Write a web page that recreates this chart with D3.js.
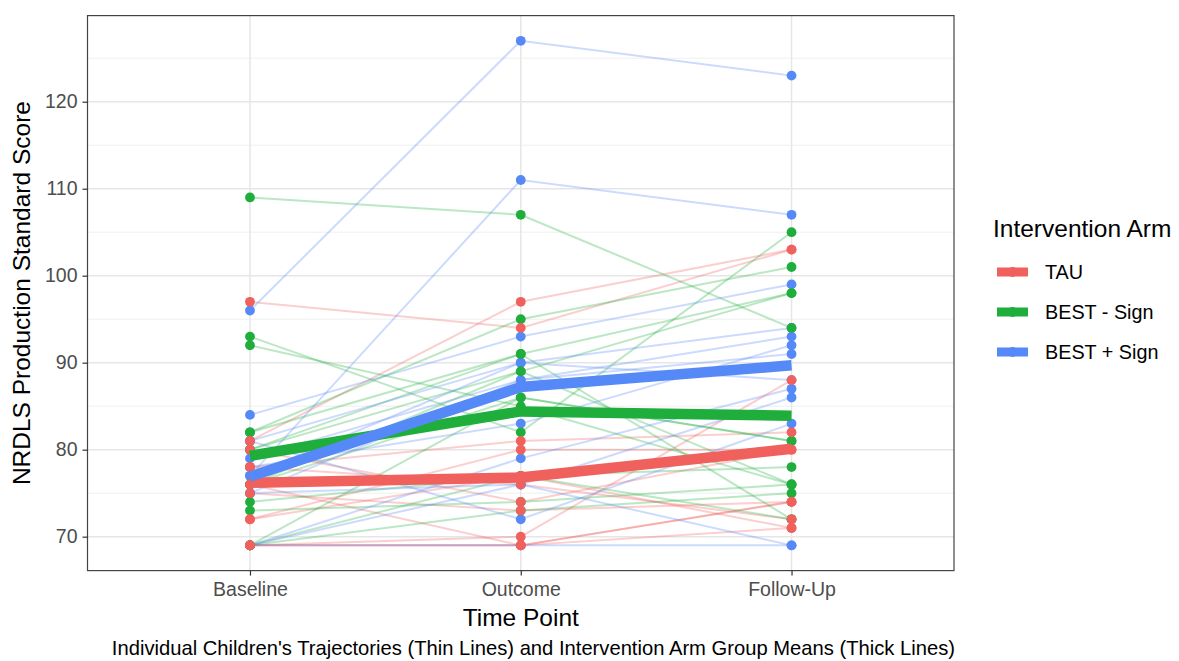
<!DOCTYPE html>
<html>
<head>
<meta charset="utf-8">
<script src="https://cdn.jsdelivr.net/npm/d3@7/dist/d3.min.js"></script>
<style>
    body { margin: 0; background: #fff; }
    svg text { font-family: "Liberation Sans", Arial, Helvetica, sans-serif; }
</style>
</head>
<body>
<div id="chart"></div>
<script>
// time points on the x axis
const timePoints = ["Baseline", "Outcome", "Follow-Up"];
const arms = ["TAU", "BEST - Sign", "BEST + Sign"];
const armColors = ["#F0605C", "#1FAE3C", "#5589F7"];
const yTicks = [70, 80, 90, 100, 110, 120];
const yMinorTicks = [75, 85, 95, 105, 115, 125];

// each child: [Baseline, Outcome, Follow-Up]
const tauScores = [
    [97, 94, 103], [81, 97, 103], [78, 81, 82], [72, 80, 80],
    [69, 70, 88], [69, 69, 71], [76, 69, 74], [78, 76, 72],
    [69, 69, 74], [75, 73, 74], [80, 74, 80], [72, 77, 71]
];
const bestNoSignScores = [
    [109, 107, 94], [93, 82, 105], [92, 85, 76], [82, 95, 101],
    [80, 91, 98], [76, 89, 98], [69, 86, 81], [74, 77, 78],
    [73, 74, 76], [69, 73, 75], [82, 91, 72], [80, 89, 76],
    [76, 86, 81], [69, 77, 72]
];
const bestSignScores = [
    [96, 127, 123], [77, 111, 107], [84, 93, 99], [81, 90, 94],
    [79, 88, 93], [78, 83, 92], [75, 88, 91], [77, 90, 88],
    [69, 79, 87], [69, 76, 86], [81, 72, 83], [75, 76, 69],
    [69, 69, 69]
];

// group means (thick lines)
const tauMeans = [76.2, 76.8, 80.1];
const bestNoSignMeans = [79.3, 84.4, 83.9];
const bestSignMeans = [76.9, 87.2, 89.7];

window.onload = function () {
    drawChart();
};

let drawChart = function () {
    let width = 1179;
    let height = 661;
    let panel = {left: 87.5, right: 954, top: 15.6, bottom: 570.6};

    let svg = d3.select("#chart")
        .append("svg")
        .attr("width", width)
        .attr("height", height);

    let xScale = d3.scalePoint()
        .domain(timePoints)
        .range([panel.left, panel.right])
        .padding(0.6);

    let yScale = d3.scaleLinear()
        .domain([66.1, 129.9])
        .range([panel.bottom, panel.top]);

    let groups = [tauScores, bestNoSignScores, bestSignScores];
    let means = [tauMeans, bestNoSignMeans, bestSignMeans];

    // 网格线
    let grid = svg.append("g");
    grid.selectAll(".minor")
        .data(yMinorTicks)
        .enter()
        .append("line")
        .attr("x1", panel.left).attr("x2", panel.right)
        .attr("y1", d => yScale(d)).attr("y2", d => yScale(d))
        .attr("stroke", "#EBEBEB")
        .attr("stroke-width", 0.8);
    grid.selectAll(".major")
        .data(yTicks)
        .enter()
        .append("line")
        .attr("x1", panel.left).attr("x2", panel.right)
        .attr("y1", d => yScale(d)).attr("y2", d => yScale(d))
        .attr("stroke", "#E6E6E6")
        .attr("stroke-width", 1.5);
    grid.selectAll(".vmajor")
        .data(timePoints)
        .enter()
        .append("line")
        .attr("x1", d => xScale(d)).attr("x2", d => xScale(d))
        .attr("y1", panel.top).attr("y2", panel.bottom)
        .attr("stroke", "#E6E6E6")
        .attr("stroke-width", 1.5);

    let line = d3.line()
        .x((d, i) => xScale(timePoints[i]))
        .y(d => yScale(d));

    // thin lines: individual children
    groups.forEach(function (scores, g) {
        svg.append("g")
            .selectAll("path")
            .data(scores)
            .enter()
            .append("path")
            .attr("d", line)
            .attr("fill", "none")
            .attr("stroke", armColors[g])
            .attr("stroke-opacity", 0.3)
            .attr("stroke-width", 2);
    });

    // points, drawn blue first so red ends on top
    [2, 1, 0].forEach(function (g) {
        let pts = [];
        groups[g].forEach(function (row) {
            row.forEach(function (v, i) {
                pts.push({t: timePoints[i], v: v});
            });
        });
        svg.append("g")
            .selectAll("circle")
            .data(pts)
            .enter()
            .append("circle")
            .attr("cx", d => xScale(d.t))
            .attr("cy", d => yScale(d.v))
            .attr("r", 4.9)
            .attr("fill", armColors[g]);
    });

    // thick lines: group means
    means.forEach(function (m, g) {
        svg.append("path")
            .datum(m)
            .attr("d", line)
            .attr("fill", "none")
            .attr("stroke", armColors[g])
            .attr("stroke-width", 10.5)
            .attr("stroke-linejoin", "round");
    });

    // panel border
    svg.append("rect")
        .attr("x", panel.left)
        .attr("y", panel.top)
        .attr("width", panel.right - panel.left)
        .attr("height", panel.bottom - panel.top)
        .attr("fill", "none")
        .attr("stroke", "#444444")
        .attr("stroke-width", 1.2);

    // axes
    let xAxis = d3.axisBottom(xScale).tickSize(5).tickPadding(6);
    let gx = svg.append("g")
        .attr("transform", "translate(0," + panel.bottom + ")")
        .call(xAxis);
    let yAxis = d3.axisLeft(yScale).tickValues(yTicks).tickSize(5).tickPadding(5);
    let gy = svg.append("g")
        .attr("transform", "translate(" + panel.left + ",0)")
        .call(yAxis);
    [gx, gy].forEach(function (a) {
        a.select(".domain").remove();
        a.selectAll(".tick line").attr("stroke", "#333333").attr("stroke-width", 1.2);
        a.selectAll(".tick text")
            .attr("fill", "#4D4D4D")
            .style("font-size", "19.5px");
    });
    gx.selectAll(".tick text").attr("dy", "0.71em").attr("y", 12);

    // axis titles
    svg.append("text")
        .attr("x", (panel.left + panel.right) / 2)
        .attr("y", 626)
        .attr("text-anchor", "middle")
        .style("font-size", "24.5px")
        .text("Time Point");
    svg.append("text")
        .attr("transform", "translate(30," + ((panel.top + panel.bottom) / 2) + ") rotate(-90)")
        .attr("text-anchor", "middle")
        .style("font-size", "24.5px")
        .text("NRDLS Production Standard Score");

    // caption
    svg.append("text")
        .attr("x", panel.right + 1)
        .attr("y", 655)
        .attr("text-anchor", "end")
        .style("font-size", "20.2px")
        .text("Individual Children's Trajectories (Thin Lines) and Intervention Arm Group Means (Thick Lines)");

    // legend
    let legend = svg.append("g");
    legend.append("text")
        .attr("x", 993)
        .attr("y", 237)
        .style("font-size", "24.5px")
        .text("Intervention Arm");
    let keys = legend.selectAll(".key")
        .data(arms)
        .enter()
        .append("g")
        .attr("transform", (d, i) => "translate(997," + (272 + i * 40) + ")");
    keys.append("line")
        .attr("x1", 0).attr("x2", 31)
        .attr("stroke", (d, i) => armColors[i])
        .attr("stroke-width", 9);
    keys.append("circle")
        .attr("cx", 15.5)
        .attr("r", 4.9)
        .attr("fill", (d, i) => armColors[i]);
    keys.append("text")
        .attr("x", 48)
        .attr("dy", "0.36em")
        .style("font-size", "19.8px")
        .text(d => d);
};
</script>
</body>
</html>
